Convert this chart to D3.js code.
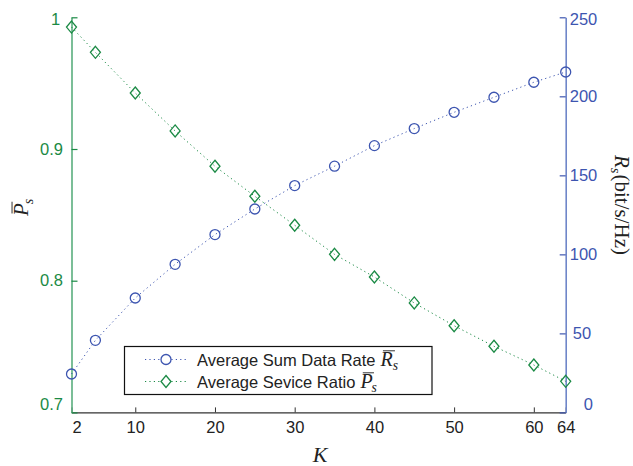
<!DOCTYPE html>
<html><head><meta charset="utf-8">
<script src="https://cdn.jsdelivr.net/npm/d3@7"></script>
<style>
html,body{margin:0;padding:0;background:#fff;}
svg{display:block;}
</style></head>
<body>
<svg id="chart" width="633" height="466"></svg>
<script>
// ---- data ----
const kValues = [2, 5, 10, 15, 20, 25, 30, 35, 40, 45, 50, 55, 60, 64];
const rateValues = [24.3, 45.6, 72.4, 93.7, 112.5, 128.7, 143.5, 155.8, 168.8, 179.6, 189.9, 199.4, 208.9, 215.4];
const ratioValues = [0.9926, 0.9734, 0.9425, 0.9137, 0.8869, 0.8641, 0.8421, 0.820, 0.8028, 0.7831, 0.7658, 0.7502, 0.736, 0.7236];
const xTicks = [2, 10, 20, 30, 40, 50, 60, 64];
const leftTicks = [0.7, 0.8, 0.9, 1];
const leftTickLabels = ["0.7", "0.8", "0.9", "1"];
const rightTicks = [0, 50, 100, 150, 200, 250];
const rightTickLabels = ["0", "50", "100", "150", "200", "250"];
const legendLabels = ["Average Sum Data Rate", "Average Sevice Ratio"];
const legendSymbols = ["R", "P"];

// ---- styles ----
const blue = "#3d55b0", blueAxis = "#6f86c9";
const green = "#1b8a45", greenAxis = "#5aae7e";
const sans = "'Liberation Sans', Arial, sans-serif";
const serif = "'Liberation Serif', 'Times New Roman', serif";
const fs = 16.5;

const svg = d3.select("#chart");
const x = d3.scaleLinear().domain([2, 64]).range([71.5, 565.7]);
const yL = d3.scaleLinear().domain([0.7, 1]).range([412.4, 17.3]);
const yR = d3.scaleLinear().domain([0, 250]).range([412.4, 17.3]);

// ---- x axis ----
const gx = svg.append("g").attr("transform", `translate(0,${yL(0.7)})`)
  .call(d3.axisBottom(x).tickValues(xTicks).tickSizeInner(-5).tickSizeOuter(0).tickPadding(9).tickFormat(d3.format("d")));
gx.select(".domain").attr("stroke", "#333").attr("stroke-width", 1.3);
gx.selectAll(".tick line").attr("stroke", "#333");
gx.selectAll(".tick text").attr("font-family", sans).attr("font-size", fs).attr("fill", "#222")
  .attr("dx", (d, i) => i === 0 ? 5 : 0);

// ---- left axis ----
const gl = svg.append("g").attr("transform", `translate(${x(2)},0)`)
  .call(d3.axisLeft(yL).tickValues(leftTicks).tickSizeInner(-6).tickSizeOuter(0).tickPadding(5)
    .tickFormat((d, i) => leftTickLabels[i]));
gl.select(".domain").attr("stroke", greenAxis).attr("stroke-width", 1.6);
gl.selectAll(".tick line").attr("stroke", green).attr("stroke-width", 1.2);
gl.selectAll(".tick text").attr("font-family", sans).attr("font-size", fs).attr("fill", green)
  .attr("text-anchor", "start").attr("x", (d, i) => leftTickLabels[i].length < 3 ? -20.5 : -31.5)
  .attr("dy", (d, i) => i === 0 ? "-0.15em" : (i === leftTicks.length - 1 ? "0.45em" : "0.32em"));

// ---- right axis ----
const gr = svg.append("g").attr("transform", `translate(${x(64)},0)`)
  .call(d3.axisRight(yR).tickValues(rightTicks).tickSizeInner(-6).tickSizeOuter(0).tickPadding(4)
    .tickFormat((d, i) => rightTickLabels[i]));
gr.select(".domain").attr("stroke", blueAxis).attr("stroke-width", 1.6);
gr.selectAll(".tick line").attr("stroke", blue).attr("stroke-width", 1.2);
gr.selectAll(".tick text").attr("font-family", sans).attr("font-size", fs).attr("fill", blue)
  .attr("text-anchor", "start")
  .attr("x", (d, i) => ({1: 18, 2: 7, 3: 4})[rightTickLabels[i].length])
  .attr("dy", (d, i) => i === 0 ? "-0.15em" : (i === rightTicks.length - 1 ? "0.45em" : "0.32em"));

// ---- series ----
const lineR = d3.line().x((d, i) => x(kValues[i])).y(d => yR(d));
const lineL = d3.line().x((d, i) => x(kValues[i])).y(d => yL(d));

svg.append("path").datum(ratioValues).attr("d", lineL).attr("fill", "none")
  .attr("stroke", green).attr("stroke-width", 1).attr("stroke-dasharray", "1.2,3.2");
svg.append("path").datum(rateValues).attr("d", lineR).attr("fill", "none")
  .attr("stroke", blue).attr("stroke-width", 1).attr("stroke-dasharray", "1.2,3.2");

const diamond = (cx, cy) => `M${cx},${cy - 6}L${cx + 5},${cy}L${cx},${cy + 6}L${cx - 5},${cy}Z`;

svg.append("g").selectAll("path").data(ratioValues).join("path")
  .attr("d", (d, i) => diamond(x(kValues[i]), yL(d)))
  .attr("fill", "none").attr("stroke", green).attr("stroke-width", 1.3);

svg.append("g").selectAll("circle").data(rateValues).join("circle")
  .attr("cx", (d, i) => x(kValues[i])).attr("cy", d => yR(d)).attr("r", 5)
  .attr("fill", "none").attr("stroke", blue).attr("stroke-width", 1.3);

// ---- math label helper: italic letter with overbar and subscript s ----
function mathSym(g, letter, size, bar) {
  const t = g.append("text").attr("font-family", serif).attr("font-style", "italic")
    .attr("font-size", size).attr("fill", "#222");
  t.append("tspan").text(letter);
  t.append("tspan").attr("font-size", size * 0.68).attr("dy", size * 0.22).attr("dx", letter === "P" ? -1 : 0).text("s");
  const w = letter === "P" ? size * 0.56 : size * 0.6;
  if (bar) {
    g.append("line").attr("x1", size * 0.12).attr("x2", size * 0.12 + w).attr("y1", -size * 0.76).attr("y2", -size * 0.76)
      .attr("stroke", "#333").attr("stroke-width", 1);
  }
  return t;
}

// ---- legend ----
const lg = svg.append("g");
lg.append("rect").attr("x", 124.5).attr("y", 346.5).attr("width", 307.5).attr("height", 48)
  .attr("fill", "#fff").attr("stroke", "#111").attr("stroke-width", 1.2);
const rowY = [359.5, 381.5];
const rowColor = [blue, green];
legendLabels.forEach((lab, i) => {
  const yy = rowY[i];
  lg.append("line").attr("x1", 145).attr("x2", 188).attr("y1", yy).attr("y2", yy)
    .attr("stroke", rowColor[i]).attr("stroke-width", 1).attr("stroke-dasharray", "1.2,3.2");
  if (i === 0) {
    lg.append("circle").attr("cx", 166).attr("cy", yy).attr("r", 5).attr("fill", "#fff")
      .attr("stroke", blue).attr("stroke-width", 1.3);
  } else {
    lg.append("path").attr("d", diamond(166, yy)).attr("fill", "#fff")
      .attr("stroke", green).attr("stroke-width", 1.3);
  }
  const txt = lg.append("text").attr("x", 197).attr("y", yy + 6).attr("font-family", sans)
    .attr("font-size", fs).attr("fill", "#222").text(lab);
  const w = txt.node().getComputedTextLength();
  const mg = lg.append("g").attr("transform", `translate(${197 + w + 5},${yy + 6.5})`);
  mathSym(mg, legendSymbols[i], 20, true);
});

// ---- axis titles ----
svg.append("text").attr("x", 320).attr("y", 462).attr("text-anchor", "middle")
  .attr("font-family", serif).attr("font-style", "italic").attr("font-size", 22).attr("fill", "#222").text("K");

const pl = svg.append("g").attr("transform", "translate(28,216) rotate(-90)");
mathSym(pl, "P", 21, true);

const rl = svg.append("g").attr("transform", "translate(615,155) rotate(90)");
const rt = rl.append("text").attr("font-family", serif).attr("font-size", 21).attr("fill", "#222");
rt.append("tspan").attr("font-style", "italic").text("R");
rt.append("tspan").attr("font-style", "italic").attr("font-size", 14.5).attr("dy", 4).text("s");
rt.append("tspan").attr("dy", -4).attr("dx", 1).text("(bit/s/Hz)");
</script>
</body></html>
